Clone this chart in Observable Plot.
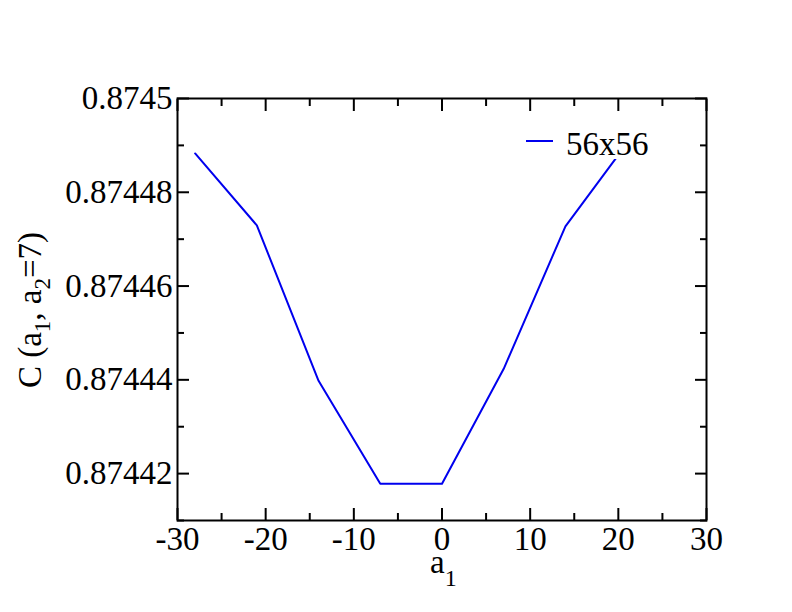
<!DOCTYPE html>
<html><head><meta charset="utf-8">
<script src="https://cdn.jsdelivr.net/npm/d3@7"></script>
<script src="https://cdn.jsdelivr.net/npm/@observablehq/plot@0.6"></script>
<style>body{margin:0;background:#fff;} svg{display:block;}</style>
</head><body>
<script>
const a1 = [-28, -21, -14, -7, 0, 7, 14, 21];
const C = [0.87448828, 0.87447294, 0.87443979, 0.87441782, 0.87441782, 0.87444235, 0.87447273, 0.87449048];
const seriesName = "56x56";
const xMajor = [-30, -20, -10, 0, 10, 20, 30];
const xMinor = [-25, -15, -5, 5, 15, 25];
const yMajor = [0.87442, 0.87444, 0.87446, 0.87448, 0.8745];
const yMinor = [0.87441, 0.87443, 0.87445, 0.87447, 0.87449];
const yLabels = ["0.87442", "0.87444", "0.87446", "0.87448", "0.8745"];

const data = a1.map((x, i) => ({x, y: C[i]}));
const F = "Liberation Serif, Times New Roman, serif";
const tickOpts = {tickFormat: () => "", label: null, strokeWidth: 2};

const plot = Plot.plot({
  width: 792, height: 612,
  marginLeft: 177, marginRight: 86, marginTop: 98, marginBottom: 92,
  style: {fontFamily: F, fontSize: "33px", color: "black", background: "white"},
  x: {domain: [-30, 30]},
  y: {domain: [0.87441, 0.8745]},
  marks: [
    Plot.line(data, {x: "x", y: "y", stroke: "#0000ee", strokeWidth: 2}),
    Plot.axisX({anchor: "bottom", ticks: xMajor, tickSize: 0, tickPadding: 6, tickFormat: d => String(d), label: null}),
    Plot.axisX({anchor: "bottom", ticks: xMajor, tickSize: 12, dy: -12, ...tickOpts}),
    Plot.axisX({anchor: "bottom", ticks: xMinor, tickSize: 7, dy: -7, ...tickOpts}),
    Plot.axisX({anchor: "top", ticks: xMajor, tickSize: 12, dy: 12, ...tickOpts}),
    Plot.axisX({anchor: "top", ticks: xMinor, tickSize: 7, dy: 7, ...tickOpts}),
    Plot.axisY({anchor: "left", ticks: yMajor, tickSize: 0, tickPadding: 5, tickFormat: d => yLabels[yMajor.findIndex(v => Math.abs(v - d) < 1e-9)], label: null}),
    Plot.axisY({anchor: "left", ticks: yMajor, tickSize: 12, dx: 12, ...tickOpts}),
    Plot.axisY({anchor: "left", ticks: yMinor, tickSize: 7, dx: 7, ...tickOpts}),
    Plot.axisY({anchor: "right", ticks: yMajor, tickSize: 12, dx: -12, ...tickOpts}),
    Plot.axisY({anchor: "right", ticks: yMinor, tickSize: 7, dx: -7, ...tickOpts}),
    Plot.frame({stroke: "black", strokeWidth: 2})
  ]
});
document.body.appendChild(plot);

const svg = d3.select(plot);
// legend
const lg = svg.append("g");
lg.append("rect").attr("x", 515).attr("y", 116).attr("width", 150).attr("height", 43).attr("fill", "white");
lg.append("line").attr("x1", 526).attr("x2", 553).attr("y1", 141).attr("y2", 141).attr("stroke", "#0000ee").attr("stroke-width", 2);
lg.append("text").attr("x", 566).attr("y", 155).attr("text-anchor", "start").attr("font-family", F).attr("font-size", 33).attr("fill", "black").text(seriesName);

// x title
const xt = svg.append("text").attr("x", 430).attr("y", 573).attr("text-anchor", "start")
  .attr("font-family", F).attr("font-size", 33).attr("fill", "black");
xt.append("tspan").text("a");
xt.append("tspan").attr("font-size", 24).attr("dy", 13).text("1");

// y title
const yt = svg.append("text").attr("transform", "translate(41,310) rotate(-90)").attr("text-anchor", "middle")
  .attr("font-family", F).attr("font-size", 33).attr("fill", "black");
yt.append("tspan").text("C (a");
yt.append("tspan").attr("font-size", 23).attr("dy", 9).text("1");
yt.append("tspan").attr("dy", -9).text(", a");
yt.append("tspan").attr("font-size", 23).attr("dy", 9).text("2");
yt.append("tspan").attr("dy", -9).text("=7)");
</script>
</body></html>
